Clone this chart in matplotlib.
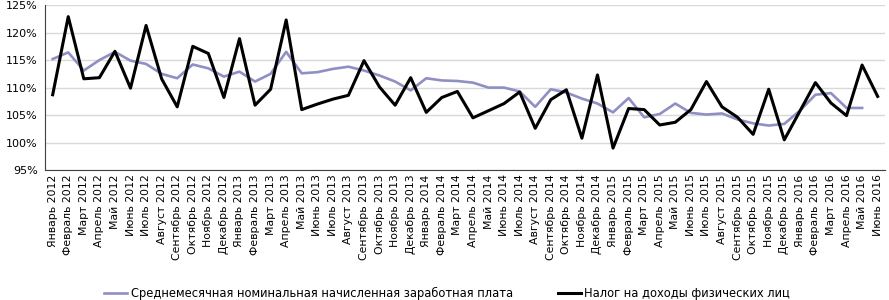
import numpy as np
import matplotlib
matplotlib.use("Agg")
import matplotlib.pyplot as plt
from matplotlib.ticker import FuncFormatter

months = ["Январь", "Февраль", "Март", "Апрель", "Май", "Июнь", "Июль", "Август",
          "Сентябрь", "Октябрь", "Ноябрь", "Декабрь"]
labels = [f"{months[i % 12]} {2012 + i // 12}" for i in range(54)]

salary = [115.2, 116.4, 113.1, 115.0, 116.5, 114.9, 114.3, 112.5, 111.7, 114.2,
          113.5, 112.0, 112.9, 111.1, 112.5, 116.5, 112.6, 112.8, 113.4, 113.8,
          113.1, 112.2, 111.1, 109.5, 111.7, 111.3, 111.2, 110.9, 110.0, 110.0,
          109.3, 106.5, 109.7, 109.1, 108.0, 107.1, 105.5, 108.1, 104.6, 105.2,
          107.1, 105.4, 105.1, 105.3, 104.2, 103.5, 103.1, 103.4, 105.8, 108.7,
          109.0, 106.3, 106.3, np.nan]
ndfl = [108.7, 122.9, 111.6, 111.8, 116.6, 109.9, 121.3, 111.6, 106.5, 117.5,
        116.2, 108.2, 118.9, 106.8, 109.7, 122.3, 106.0, 107.0, 107.9, 108.6,
        114.9, 110.1, 106.8, 111.8, 105.5, 108.2, 109.3, 104.5, 105.8, 107.1,
        109.2, 102.6, 107.8, 109.6, 100.8, 112.3, 99.0, 106.2, 106.0, 103.2,
        103.7, 106.0, 111.1, 106.5, 104.6, 101.5, 109.7, 100.5, 105.7, 110.9,
        107.2, 104.9, 114.1, 108.4]

plt.rcParams['font.family'] = ['DejaVu Sans']
fig = plt.figure(figsize=(8.89, 3.0), dpi=100)
ax = fig.add_axes([0.0505, 0.433, 0.9455, 0.55])

x = np.arange(len(labels))
ax.plot(x, salary, color='#8f8fc4', lw=1.9,
        label='Среднемесячная номинальная начисленная заработная плата')
ax.plot(x, ndfl, color='black', lw=2.2, label='Налог на доходы физических лиц')

ax.set_xlim(-0.5, len(labels) - 0.5)
ax.set_ylim(95, 125)
ax.set_yticks(np.arange(95, 126, 5))
ax.yaxis.set_major_formatter(FuncFormatter(lambda v, p: f"{v:.0f}%"))
ax.set_xticks(x)
ax.set_xticklabels(labels, rotation=90, fontsize=7.8)
ax.tick_params(axis='y', labelsize=8, length=0, pad=5)
ax.tick_params(axis='x', length=0, pad=3)
ax.grid(axis='y', color='#d9d9d9', lw=1)
ax.set_axisbelow(True)
for s in ['top', 'right']:
    ax.spines[s].set_visible(False)
ax.spines['left'].set_color('#404040')
ax.spines['bottom'].set_color('#404040')

fig.legend(loc='lower center', bbox_to_anchor=(0.503, -0.035), ncol=2, frameon=False,
           fontsize=8.3, handlelength=2.0, handletextpad=0.3, columnspacing=3.9)

fig.savefig('out.png', dpi=100)
